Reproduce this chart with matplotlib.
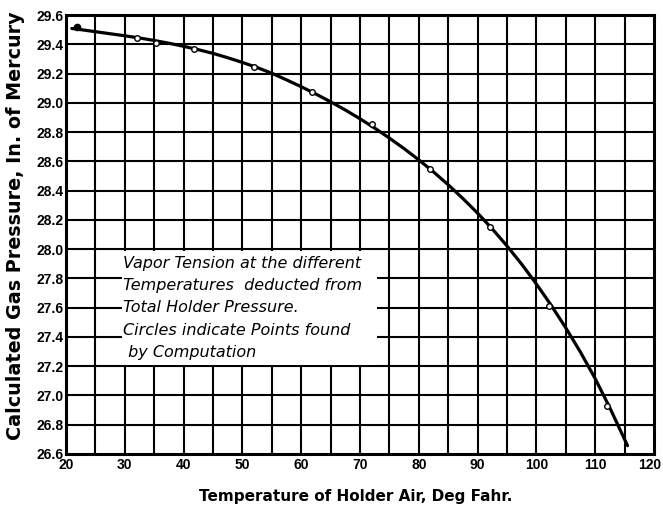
import numpy as np
from matplotlib import pyplot as plt
from matplotlib.patches import Rectangle
from matplotlib.transforms import ScaledTranslation

# computed gas pressures (circles)
temp_pts = [21.8, 32.0, 35.3, 41.8, 52.0, 61.9, 72.1, 81.9, 92.1, 102.1, 112.0]
press_pts = [29.515, 29.445, 29.41, 29.37, 29.247, 29.076, 28.855, 28.55, 28.15, 27.61, 26.93]

# smooth curve drawn through the computed points
temp_curve = [21.0, 22.5, 25, 27.5, 30, 32.5, 35, 37.5, 40, 42.5, 45, 47.5, 50, 52.5,
              55, 57.5, 60, 62.5, 65, 67.5, 70, 72.5, 75, 77.5, 80, 82.5, 85, 87.5,
              90, 92.5, 95, 97.5, 100, 102.5, 105, 107.5, 110, 112.5, 115.5]
press_curve = [29.508, 29.500, 29.486, 29.472, 29.458, 29.443, 29.426, 29.407, 29.386,
               29.363, 29.338, 29.308, 29.276, 29.241, 29.202, 29.157, 29.110, 29.060,
               29.007, 28.951, 28.891, 28.827, 28.759, 28.687, 28.610, 28.528, 28.440,
               28.346, 28.246, 28.138, 28.022, 27.897, 27.762, 27.617, 27.462, 27.296,
               27.115, 26.915, 26.657]

x_major = np.arange(20, 121, 10)
y_major = np.round(np.arange(26.6, 29.61, 0.2), 1)

note = ["Vapor Tension at the different",
        "Temperatures  deducted from",
        "Total Holder Pressure.",
        "Circles indicate Points found",
        " by Computation"]


def plot_pressure_chart():
    f = plt.figure(figsize=(6.63, 5.12), dpi=100)
    ax = f.add_axes([0.0995, 0.1133, 0.8869, 0.8574])

    ax.set_xlim(20, 120)
    ax.set_ylim(26.6, 29.6)

    # grid: every 5 deg and every 0.2 in.
    for xv in np.arange(25, 120, 5):
        ax.axvline(xv, color='black', lw=1.5, zorder=1)
    for yv in y_major[1:-1]:
        ax.axhline(yv, color='black', lw=1.5, zorder=1)

    # blank patch behind the note
    ax.add_patch(Rectangle((29.6, 27.21), 43.3, 0.78, facecolor='white',
                           edgecolor='none', zorder=2))

    ax.plot(temp_curve, press_curve, color='black', lw=2.3, zorder=3,
            solid_capstyle='round', solid_joinstyle='round')
    ax.plot(temp_pts[1:], press_pts[1:], 'o', ms=4, mfc='white', mec='black',
            mew=1.0, zorder=4)
    ax.plot(temp_pts[:1], press_pts[:1], 'o', ms=4.5, color='black', zorder=4)

    for sp in ax.spines.values():
        sp.set_linewidth(2.2)

    ax.set_xticks(x_major)
    ax.set_xticklabels([str(v) for v in x_major])
    ax.set_yticks(y_major)
    ax.set_yticklabels(['%.1f' % v for v in y_major])
    ax.tick_params(axis='x', length=0, pad=3)
    ax.tick_params(axis='y', length=0, pad=2)
    for lab in ax.get_xticklabels() + ax.get_yticklabels():
        lab.set_fontweight('bold')
        lab.set_family('Liberation Sans')
        lab.set_fontsize(10)
    # nudge the last x label so it stays on the page
    last = ax.get_xticklabels()[-1]
    last.set_transform(last.get_transform() + ScaledTranslation(-3 / 72, 0, f.dpi_scale_trans))

    ax.set_xlabel('Temperature of Holder Air, Deg Fahr.', fontsize=11,
                  fontweight='bold')
    ax.xaxis.set_label_coords(0.493, -0.08)
    ax.set_ylabel('Calculated Gas Pressure, In. of Mercury', fontsize=13.8,
                  fontweight='bold')
    ax.yaxis.set_label_coords(-0.07, 0.52)

    ty = 27.905
    for i, line in enumerate(note):
        ax.text(29.7, ty - i * 0.1536, line, fontsize=11.5, style='italic', va='center',
                ha='left', zorder=5)

    plt.savefig('out.png', dpi=100)


if __name__ == "__main__":
    plot_pressure_chart()
